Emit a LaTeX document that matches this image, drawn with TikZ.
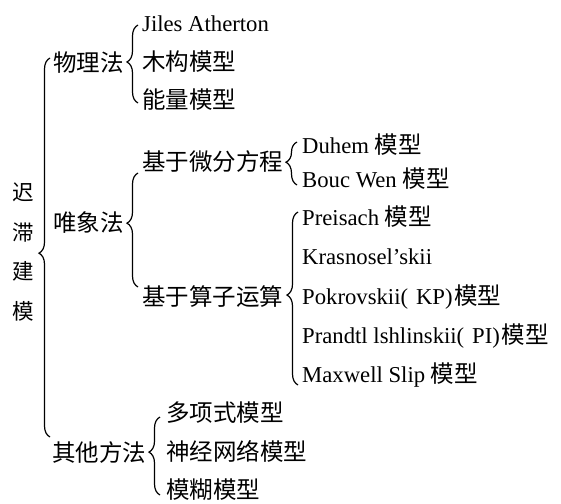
\documentclass[tikz,border=0pt]{standalone}
\usepackage{fontspec}
\setmainfont{Liberation Serif}
\newfontfamily\cjk{Noto Sans CJK SC}
\newcommand\zh[1]{{\cjk\fontsize{23.5}{26}\selectfont #1}}
\newcommand\lp{(\hspace{0.35em}}
\newcommand\rp{)\hspace{0.08em}}
\usetikzlibrary{decorations.pathreplacing}
\begin{document}
\begin{tikzpicture}[x=1pt,y=-1pt,
  lbl/.style={anchor=west,inner sep=0pt,font=\fontsize{22.7}{26}\selectfont,text height=20pt,text depth=3pt},
  rootlbl/.style={inner sep=0pt,align=center,font=\cjk\fontsize{21.5}{39.5}\selectfont},
  br/.style={decorate,decoration={brace,amplitude=11pt,aspect=#1},line width=1.2pt},
]
\useasboundingbox (0,0) rectangle (561,503);
% root
\node[rootlbl] (root) at (23,252) {迟\\滞\\建\\模};
% level 1
\node[lbl] (wl) at (53,63) {\zh{物理法}};
\node[lbl] (wx) at (53,223) {\zh{唯象法}};
\node[lbl] (qt) at (52,453) {\zh{其他方法}};
% physics items
\node[lbl] (ja) at (142,23) {Jiles Atherton};
\node[lbl] (mg) at (142,62) {\zh{木构模型}};
\node[lbl] (nl) at (142,100) {\zh{能量模型}};
% phenomenological
\node[lbl] (wf) at (142,162) {\zh{基于微分方程}};
\node[lbl] (sz) at (142,297) {\zh{基于算子运算}};
\node[lbl] (du) at (302,145) {Duhem \zh{模型}};
\node[lbl] (bw) at (302,179) {Bouc Wen \zh{模型}};
\node[lbl] (pr) at (302,217) {Preisach \zh{模型}};
\node[lbl] (kr) at (302,256) {Krasnosel’skii};
\node[lbl] (pk) at (302,296) {Pokrovskii\lp KP\rp\zh{模型}};
\node[lbl] (pi) at (302,335) {Prandtl lshlinskii\lp PI\rp\zh{模型}};
\node[lbl] (ms) at (302,374) {Maxwell Slip \zh{模型}};
% others
\node[lbl] (dx) at (166,413) {\zh{多项式模型}};
\node[lbl] (sj) at (166,452) {\zh{神经网络模型}};
\node[lbl] (mh) at (166,490) {\zh{模糊模型}};
% brace ends
\coordinate (b0t) at (50,58);   \coordinate (b0b) at (50,437);
\coordinate (b1t) at (138,25);  \coordinate (b1b) at (138,103);
\coordinate (b2t) at (138,173); \coordinate (b2b) at (138,287);
\coordinate (b3t) at (297,142); \coordinate (b3b) at (297,185);
\coordinate (b4t) at (298,212); \coordinate (b4b) at (298,385);
\coordinate (b5t) at (160,417); \coordinate (b5b) at (160,495);
\draw[br=0.485] (b0b) -- (b0t);
\draw[br=0.526] (b1b) -- (b1t);
\draw[br=0.56]  (b2b) -- (b2t);
\draw[br=0.53]  (b3b) -- (b3t);
\draw[br=0.52]  (b4b) -- (b4t);
\draw[br=0.55]  (b5b) -- (b5t);
\end{tikzpicture}
\end{document}
